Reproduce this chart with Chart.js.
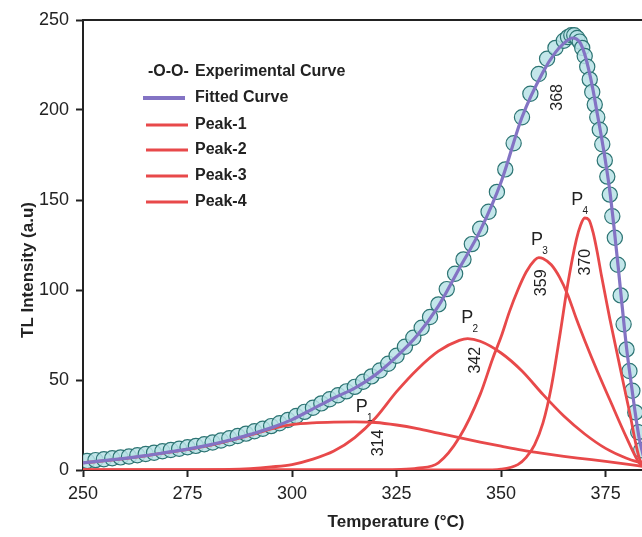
<!DOCTYPE html>
<html>
<head>
<meta charset="utf-8">
<title>TL glow curve</title>
<script src="https://cdn.jsdelivr.net/npm/chart.js@4.4.1/dist/chart.umd.min.js"></script>
<style>
  html, body { margin: 0; padding: 0; background: #fff; overflow: hidden; }
</style>
</head>
<body>
<canvas id="glow" width="642" height="537"></canvas>
<script>
// axis ticks
const xTicks = [250, 275, 300, 325, 350, 375];
const yTicks = [0, 50, 100, 150, 200, 250];

// measured glow curve (open circles)
const expT = [251, 253, 255, 257, 259, 261, 263, 265, 267, 269, 271, 273, 275, 277, 279,
  281, 283, 285, 287, 289, 291, 293, 295, 297, 299, 301, 303, 305, 307, 309,
  311, 313, 315, 317, 319, 321, 323, 325, 327, 329, 331, 333, 335, 337, 339,
  341, 343, 345, 347, 349, 351, 353, 355, 357, 359, 361, 363, 365,
  366, 366.8, 367.5, 368.2, 368.8, 369.4, 370, 370.6, 371.2, 371.8, 372.4, 373, 373.6, 374.2,
  374.8, 375.4, 376, 376.6, 377.2, 377.9, 378.6, 379.3, 380, 380.7, 381.4, 382.1, 382.8, 383.5];
const expI = [5, 5.5, 6, 6.5, 7, 7.5, 8.2, 8.9, 9.6, 10.4, 11.1, 11.8, 12.6, 13.4, 14.3,
  15.3, 16.4, 17.6, 18.9, 20.2, 21.5, 22.9, 24.4, 26, 27.8, 30, 32.3, 34.6, 37, 39.3,
  41.5, 43.7, 46.2, 49, 52, 55.3, 59, 63.5, 68.5, 73.5, 79, 85, 92, 100.5, 109,
  117, 125.5, 134, 143.5, 154.5, 167, 181.5, 196, 209, 220, 228.5, 234.5, 238.5,
  240.5, 241.5, 241.5, 240, 238, 234.5, 230, 224, 217, 210, 203, 196, 189, 181,
  172, 163, 153, 141, 129, 114, 97, 81, 67, 55, 44, 32, 21, 11];

// fitted curve (sum of components)
const fitT = [250, 255, 260, 265, 270, 275, 280, 285, 290, 295, 300, 305, 310, 315, 320,
  325, 330, 335, 340, 345, 350, 355, 360, 363, 365, 367, 368, 369, 370, 371, 372, 373,
  374, 375, 376, 377, 378, 379, 380, 381, 382, 383, 384];
const fitI = [4, 5.2, 6.5, 8, 9.8, 11.6, 13.8, 16.5, 19.8, 23.4, 28, 34, 40, 45.5, 53,
  63, 75, 91, 112, 133, 160, 196, 221, 232, 237, 240, 239.5, 237, 231, 222, 211, 198,
  185, 171, 155, 135, 113, 90, 68, 50, 33, 18, 8];

// deconvoluted components
const p1T = [250, 260, 270, 280, 290, 296, 300, 305, 310, 315, 320, 325, 330, 335, 340, 345, 350, 355, 360, 365, 370, 375, 380, 384];
const p1I = [4, 6.3, 9.6, 13.6, 19.4, 23.4, 25.2, 26.2, 26.6, 26.7, 26.4, 25, 23, 20.5, 18, 15.5, 13.2, 11, 9.2, 7.6, 6.2, 4.8, 3.3, 2];
const p2T = [250, 270, 285, 290, 295, 300, 305, 310, 315, 320, 325, 330, 335, 340, 342, 345, 350, 355, 360, 365, 370, 375, 380, 384];
const p2I = [0, 0, 0.3, 0.8, 1.7, 3, 6, 10.5, 18, 29, 43.5, 56, 66, 72, 73, 71.5, 65, 55, 42, 30, 20, 12, 6.5, 3.5];
const p3T = [250, 300, 320, 325, 330, 335, 340, 345, 348, 350, 352, 354, 356, 358, 359, 360, 362, 364, 366, 368, 370, 373, 376, 380, 383, 384];
const p3I = [0, 0, 0, 0.2, 1, 4, 18, 42, 62, 74, 88, 100, 110, 116.5, 118, 117.5, 114, 107, 97, 84, 72, 55, 39, 18, 4, 2];
const p4T = [250, 330, 345, 350, 354, 356, 358, 360, 362, 364, 366, 368, 369, 370, 371, 372, 373, 374, 375, 376, 377, 378, 379, 380, 381, 382, 383, 384];
const p4I = [0, 0, 0, 0.5, 3, 7, 14, 26, 46, 74, 104, 128, 136, 140, 139, 132, 121, 108, 96, 84, 73, 62, 51, 40, 29, 17, 7, 2];

// peak maxima written next to each component, and the glow peak
const peakNames = ['1', '2', '3', '4'];
const peakTemps = ['314', '342', '359', '370'];
const glowPeak = '368';

const FONT = "'Liberation Sans', Arial, Helvetica, sans-serif";
const INK = '#222';
const RED = '#e8494a';
const PURPLE = '#8373c4';

const pts = (xs, ys) => xs.map((x, i) => ({ x, y: ys[i] }));

function component(label, xs, ys) {
  return {
    label, data: pts(xs, ys), order: 2,
    borderColor: RED, borderWidth: 2.8, pointRadius: 0,
    cubicInterpolationMode: 'monotone', fill: false,
  };
}

// where the annotations sit, in data units (temperature, intensity)
const pAt = [[316.7, 35], [341.9, 84.4], [358.6, 127.8], [368.2, 150]];
const numAt = [[320.6, 15], [343.8, 61], [359.8, 104], [370.1, 115.5]];
const glowAt = [363.6, 207];

const decor = {
  id: 'decor',
  afterDatasetsDraw(chart) {
    const { ctx, chartArea: a, scales: { x, y } } = chart;
    ctx.save();

    // top frame line
    ctx.strokeStyle = INK;
    ctx.lineWidth = 2;
    ctx.beginPath();
    ctx.moveTo(a.left - 1, a.top);
    ctx.lineTo(a.right, a.top);
    ctx.stroke();

    // peak labels
    ctx.fillStyle = INK;
    ctx.textAlign = 'center';
    ctx.textBaseline = 'middle';
    peakNames.forEach((n, i) => {
      const px = x.getPixelForValue(pAt[i][0]);
      const py = y.getPixelForValue(pAt[i][1]);
      ctx.font = `18px ${FONT}`;
      ctx.fillText('P', px, py);
      ctx.font = `10px ${FONT}`;
      ctx.fillText(n, px + 8, py + 11);
    });
    const vertical = (txt, vx, vy) => {
      ctx.save();
      ctx.translate(x.getPixelForValue(vx), y.getPixelForValue(vy));
      ctx.rotate(-Math.PI / 2);
      ctx.font = `16px ${FONT}`;
      ctx.fillText(txt, 0, 0);
      ctx.restore();
    };
    peakTemps.forEach((t, i) => vertical(t, numAt[i][0], numAt[i][1]));
    vertical(glowPeak, glowAt[0], glowAt[1]);

    // legend
    ctx.textAlign = 'left';
    ctx.font = `bold 16px ${FONT}`;
    ctx.fillText('-O-O-', 148, 72);
    ctx.fillText('Experimental Curve', 195, 72);
    const rows = [['Fitted Curve', PURPLE, 143, 98], ['Peak-1', RED, 146, 125],
      ['Peak-2', RED, 146, 150], ['Peak-3', RED, 146, 176], ['Peak-4', RED, 146, 202]];
    rows.forEach(([txt, col, x0, ly]) => {
      ctx.strokeStyle = col;
      ctx.lineWidth = col === PURPLE ? 4 : 3;
      ctx.beginPath();
      ctx.moveTo(x0, ly);
      ctx.lineTo(x0 + 42, ly);
      ctx.stroke();
      ctx.fillText(txt, 195, ly);
    });

    // axis titles
    ctx.font = `bold 17px ${FONT}`;
    ctx.textAlign = 'center';
    ctx.fillText('Temperature (°C)', 396, 522);
    ctx.translate(28, 270);
    ctx.rotate(-Math.PI / 2);
    ctx.fillText('TL Intensity (a.u)', 0, 0);
    ctx.restore();
  }
};

new Chart(document.getElementById('glow'), {
  type: 'line',
  data: {
    datasets: [
      {
        label: 'Experimental Curve', data: pts(expT, expI), order: 3,
        showLine: false, pointRadius: 7.6, pointBorderWidth: 1.2,
        pointBackgroundColor: 'rgba(184, 226, 230, 0.85)',
        pointBorderColor: '#2c7473',
      },
      {
        label: 'Fitted Curve', data: pts(fitT, fitI), order: 1,
        borderColor: PURPLE, borderWidth: 3.2, pointRadius: 0,
        cubicInterpolationMode: 'monotone', fill: false,
      },
      component('Peak-1', p1T, p1I),
      component('Peak-2', p2T, p2I),
      component('Peak-3', p3T, p3I),
      component('Peak-4', p4T, p4I),
    ],
  },
  options: {
    responsive: false,
    animation: false,
    events: [],
    layout: { autoPadding: false, padding: { top: 20, right: 0, bottom: 0, left: 0 } },
    plugins: { legend: { display: false }, tooltip: { enabled: false } },
    scales: {
      x: {
        type: 'linear', min: 250, max: 383.7,
        afterBuildTicks: (s) => { s.ticks = xTicks.map((v) => ({ value: v })); },
        afterFit: (s) => { s.height = 67; },
        grid: { drawOnChartArea: false, tickLength: 7, tickWidth: 2, tickColor: INK },
        border: { display: true, width: 2, color: INK },
        ticks: { color: INK, padding: 6, font: { family: FONT, size: 18 } },
      },
      y: {
        type: 'linear', min: 0, max: 250,
        afterBuildTicks: (s) => { s.ticks = yTicks.map((v) => ({ value: v })); },
        afterFit: (s) => { s.width = 83; },
        grid: { drawOnChartArea: false, tickLength: 7, tickWidth: 2, tickColor: INK },
        border: { display: true, width: 2, color: INK },
        ticks: { color: INK, padding: 7, font: { family: FONT, size: 18 } },
      },
    },
  },
  plugins: [decor],
});
</script>
</body>
</html>
